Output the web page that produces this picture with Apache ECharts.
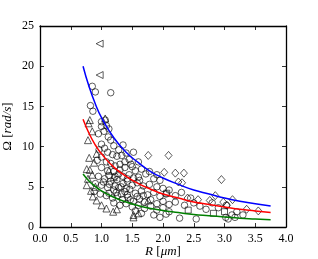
<!DOCTYPE html>
<html><head><meta charset="utf-8">
<script src="https://cdn.jsdelivr.net/npm/echarts@6/dist/echarts.min.js"></script>
<style>html,body{margin:0;padding:0;background:#fff}#c{width:318px;height:259px}</style>
</head><body><div id="c"></div>
<script>
var xTicks = [0, 0.5, 1, 1.5, 2, 2.5, 3, 3.5, 4];
var yTicks = [0, 5, 10, 15, 20, 25];

var curveR = [0.7,0.8,0.9,1.0,1.2,1.4,1.6,1.8,2.0,2.25,2.5,2.75,3.0,3.25,3.5,3.75];
var blueFit = [20.0,17.4,15.3,13.6,11.1,9.3,8.0,6.9,6.1,5.3,4.6,4.1,3.6,3.2,2.9,2.6];
var redFit = [13.4,11.6,10.2,9.1,7.45,6.3,5.4,4.7,4.1,3.6,3.1,2.8,2.5,2.2,2.0,1.8];
var greenFit = [6.6,5.7,5.05,4.5,3.7,3.1,2.65,2.3,2.05,1.8,1.55,1.4,1.25,1.1,1.0,0.9];

var circles = [[0.85,17.5],[0.9,16.8],[1.15,16.7],[0.82,15.1],[0.86,14.4],[1.0,13.1],[1.06,13.3],[1.0,12.5],[1.08,12.6],[1.12,12.2],[0.95,11.6],[1.04,11.9],[1.11,11.2],[1.15,10.8],[1.35,10.2],[1.52,9.3],[1.2,10.1],[1.28,9.6],[1.0,10.3],[0.96,9.6],[1.05,9.8],[1.1,9.3],[1.18,9.0],[1.25,8.8],[1.33,8.9],[1.4,9.2],[1.45,8.4],[1.6,8.1],[1.0,8.7],[0.93,8.3],[1.08,8.1],[1.15,7.9],[1.22,7.6],[1.3,7.8],[1.38,7.4],[1.5,7.5],[1.55,7.0],[1.65,7.2],[1.0,7.4],[1.1,7.0],[1.2,6.9],[1.28,6.6],[1.35,6.3],[1.45,6.5],[1.6,6.2],[1.72,6.6],[1.85,6.0],[1.95,5.8],[0.95,6.3],[1.05,6.0],[1.15,5.7],[1.25,5.9],[1.35,5.4],[1.42,5.7],[1.5,5.2],[1.58,5.5],[1.68,5.1],[1.78,5.3],[1.9,5.0],[2.0,4.8],[2.1,4.6],[0.9,5.4],[1.0,5.2],[1.1,4.9],[1.2,4.6],[1.28,4.9],[1.38,4.4],[1.46,4.7],[1.55,4.2],[1.65,4.5],[1.75,4.0],[1.85,4.3],[1.95,3.8],[2.05,4.1],[2.2,3.9],[2.3,4.3],[2.45,3.6],[0.88,4.4],[0.98,4.1],[1.08,3.9],[1.18,3.6],[1.26,3.9],[1.34,3.4],[1.43,3.7],[1.52,3.2],[1.62,3.5],[1.7,3.1],[1.8,3.4],[1.9,2.9],[2.0,3.2],[2.1,2.8],[2.2,3.1],[2.35,2.7],[2.5,3.0],[2.6,2.6],[1.2,3.0],[1.3,2.7],[1.4,2.9],[1.5,2.5],[1.6,2.7],[1.7,2.3],[1.8,2.6],[1.9,2.1],[2.0,2.4],[2.1,1.9],[1.55,2.0],[1.65,1.7],[1.85,1.5],[1.95,1.2],[2.05,1.6],[2.27,1.1],[2.54,1.0],[3.02,1.2],[3.17,1.2],[3.3,1.5],[2.7,2.2],[2.9,2.4],[3.03,2.7],[2.8,3.0],[3.12,1.5],[3.06,1.0],[3.2,1.9],[1.9,6.5],[1.78,6.9],[1.03,5.6],[1.13,5.3],[1.22,5.1],[1.32,5.0],[1.4,4.8],[1.24,4.3],[1.32,4.1],[1.42,4.0],[1.12,4.2],[1.47,3.4],[1.58,3.8],[1.68,3.9],[1.12,6.4],[1.22,6.3],[1.3,7.1],[1.42,6.0],[1.52,6.1],[1.62,5.8],[1.38,8.1],[1.48,7.8]];
var triangles = [[0.81,13.3],[1.06,13.5],[0.79,12.9],[0.85,11.9],[0.78,10.8],[0.92,9.1],[0.8,8.6],[0.88,8.0],[0.76,7.2],[0.81,7.1],[0.85,6.5],[0.78,6.0],[0.76,5.2],[0.83,4.5],[0.9,5.0],[0.86,3.8],[0.92,3.3],[1.0,2.7],[1.08,2.3],[1.19,1.9],[1.25,2.2],[1.52,1.2],[1.6,1.7],[1.52,1.5],[1.76,3.3],[1.12,7.0],[1.2,6.2]];
var diamonds = [[1.76,8.9],[2.09,8.9],[2.02,6.8],[2.2,6.7],[2.34,6.7],[2.25,5.6],[2.31,5.5],[2.95,5.9],[2.85,3.9],[2.76,3.3],[2.98,3.1],[2.57,3.4],[2.4,3.6],[3.13,3.4],[3.04,2.7],[3.36,2.2],[3.55,2.0]];
var squares = [[2.06,4.2],[2.41,2.1],[2.82,1.7],[3.0,1.9]];
var leftTriangles = [[0.97,22.8],[0.97,18.9]];

var FONT = 'Liberation Serif';
function pairs(xs, ys){ return xs.map(function(x,i){ return [x, ys[i]]; }); }
var hollow = {color:'rgba(0,0,0,0)', borderColor:'#000', borderWidth:0.8};
function scat(data, sym, size, rot){
  return {type:'scatter', data:data, symbol:sym, symbolSize:size, symbolRotate:rot||0,
    itemStyle:hollow, silent:true, z:2};
}
function line(data, color){
  return {type:'line', data:data, smooth:true, showSymbol:false, symbol:'none',
    lineStyle:{color:color, width:1.5}, z:3, silent:true};
}
var axisLine = {show:true, onZero:false, lineStyle:{color:'#000', width:1.3}};
var tick = {show:true, inside:true, length:4, lineStyle:{color:'#000', width:0.8}};
var chart = echarts.init(document.getElementById('c'), null, {renderer:'canvas'});
chart.setOption({
  animation:false,
  backgroundColor:'#fff',
  grid:{left:40, right:32, top:26, bottom:32, containLabel:false, outerBoundsMode:'none'},
  xAxis:[{type:'value', min:xTicks[0], max:xTicks[xTicks.length-1], interval:0.5, position:'bottom',
    axisLine:axisLine, axisTick:tick, splitLine:{show:false},
    axisLabel:{color:'#000', fontFamily:FONT, fontSize:12, margin:6, formatter:function(v){return v.toFixed(1);}},
    name:'{i|R} {n|[}{i|μm}{n|]}', nameLocation:'middle', nameGap:18, nameMoveOverlap:false,
    nameTextStyle:{color:'#000', fontFamily:FONT, fontSize:13, rich:{i:{fontStyle:'italic', fontFamily:FONT, fontSize:13, color:'#000'}, n:{fontFamily:FONT, fontSize:13, color:'#000'}}}},
   {type:'value', min:xTicks[0], max:xTicks[xTicks.length-1], interval:0.5, position:'top',
    axisLine:axisLine, axisTick:tick, splitLine:{show:false}, axisLabel:{show:false}}],
  yAxis:[{type:'value', min:yTicks[0], max:yTicks[yTicks.length-1], interval:5, position:'left',
    axisLine:axisLine, axisTick:tick, splitLine:{show:false},
    axisLabel:{color:'#000', fontFamily:FONT, fontSize:12, margin:6},
    name:'{n|Ω [}{i|rad/s}{n|]}', nameLocation:'middle', nameGap:26, nameMoveOverlap:false,
    nameTextStyle:{color:'#000', fontFamily:FONT, fontSize:13, rich:{i:{fontStyle:'italic', fontFamily:FONT, fontSize:13, color:'#000'}, n:{fontFamily:FONT, fontSize:13, color:'#000'}}}},
   {type:'value', min:yTicks[0], max:yTicks[yTicks.length-1], interval:5, position:'right',
    axisLine:axisLine, axisTick:tick, splitLine:{show:false}, axisLabel:{show:false}}],
  series:[
    scat(circles, 'circle', 6.5),
    scat(triangles, 'triangle', 7),
    scat(diamonds, 'diamond', [7,8]),
    scat(squares, 'rect', 6),
    scat(leftTriangles, 'triangle', 7, 90),
    line(pairs(curveR, blueFit), '#0000ff'),
    line(pairs(curveR, redFit), '#ff0000'),
    line(pairs(curveR, greenFit), '#008000')
  ]
});
</script></body></html>
